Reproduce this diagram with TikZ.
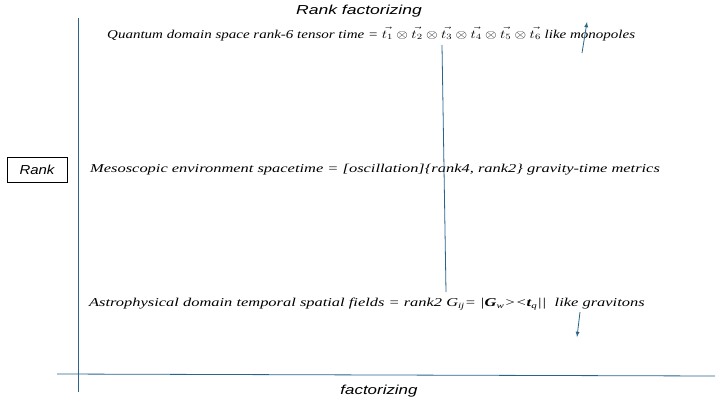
\documentclass[tikz,border=0pt]{standalone}
\usepackage{fontspec}
\setmainfont{Liberation Serif}
\newfontfamily\lsans{Liberation Sans}
\definecolor{axc}{RGB}{40,100,140}
\begin{document}
\begin{tikzpicture}[x=1pt,y=-1pt,
 ax/.style={draw=axc,line width=0.8pt},
 body/.style={font=\itshape\fontsize{12}{13}\selectfont,inner sep=0pt,anchor=west},
 lab/.style={font=\lsans\itshape\fontsize{13}{14}\selectfont,inner sep=0pt}]
\useasboundingbox (0,0) rectangle (728,407);
\coordinate (vt) at (78,18); \coordinate (vb) at (78,392);
\coordinate (hl) at (57,374); \coordinate (hr) at (715,376);
\draw[ax] (vt)--(vb); \draw[ax] (hl)--(hr);
\node[lab] (title) at (359,11) {\scalebox{1.35}[1]{Rank factorizing}};
\node[lab] (fact) at (379,391) {\scalebox{1.3}[1]{factorizing}};
\node[draw=black,line width=0.5pt,minimum width=60pt,minimum height=25pt,inner sep=0pt] (rank) at (37,170) {};
\node[lab] (ranktxt) at (rank.center) {\scalebox{1.15}[1]{Rank}};
\node[body] (q) at (107,34) {\scalebox{1.25}[1]{Quantum domain space rank-6 tensor time = $\vec{t_1}\otimes\vec{t_2}\otimes\vec{t_3}\otimes\vec{t_4}\otimes\vec{t_5}\otimes\vec{t_6}$ like monopoles}};
\node[body] (m) at (90,170) {\scalebox{1.37}[1]{Mesoscopic environment spacetime = [oscillation]\{rank4, rank2\} gravity-time metrics}};
\node[body] (a) at (89,304) {\scalebox{1.37}[1]{Astrophysical domain temporal spatial fields = rank2 G\textsubscript{ij}= |\textbf{G}\textsubscript{w}><\textbf{t}\textsubscript{q}||\ \ like gravitons}};
\coordinate (l1) at (442,45); \coordinate (l2) at (446,292);
\draw[ax] (l1)--(l2);
\coordinate (u1) at (582,53); \coordinate (u2) at (587,22);
\draw[ax,-latex] (u1)--(u2);
\coordinate (d1) at (580,312); \coordinate (d2) at (577,337);
\draw[ax,-latex] (d1)--(d2);
\end{tikzpicture}
\end{document}
